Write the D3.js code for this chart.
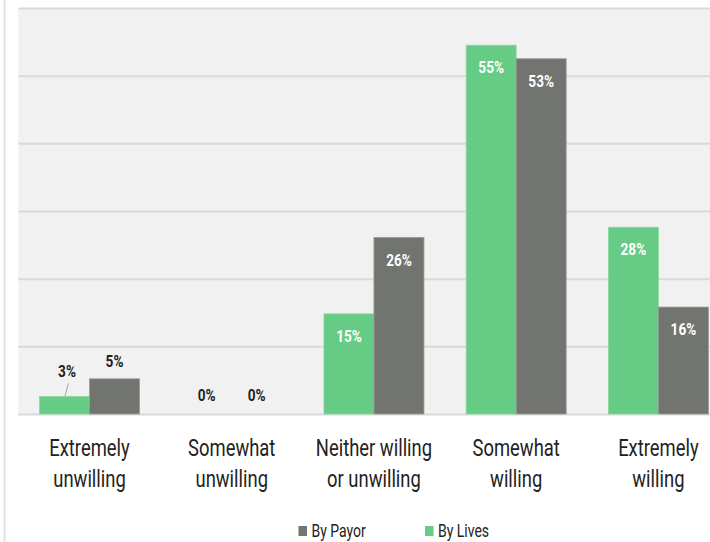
<!DOCTYPE html>
<html>
<head>
<meta charset="utf-8">
<script src="https://cdn.jsdelivr.net/npm/d3@7"></script>
<style>
  html, body { margin: 0; padding: 0; background: #ffffff; }
  svg { display: block; }
</style>
</head>
<body>
<svg id="chart" width="710" height="542"></svg>
<script>
// ---- data ----
const categories = [
  ["Extremely", "unwilling"],
  ["Somewhat", "unwilling"],
  ["Neither willing", "or unwilling"],
  ["Somewhat", "willing"],
  ["Extremely", "willing"]
];
const seriesNames = ["By Lives", "By Payor"];
const byLives = [2.6, 0, 14.8, 54.5, 27.6];
const byPayor = [5.2, 0, 26.1, 52.5, 15.8];
const yTicks = [0, 10, 20, 30, 40, 50, 60];
const legendOrder = ["By Payor", "By Lives"];

// ---- styles ----
const colors = { "By Lives": "#66cc85", "By Payor": "#72746f" };
const strokes = { "By Lives": "#8ad9a2", "By Payor": "#9a9b97" };
const condensed = 0.8;

const svg = d3.select("#chart");
const W = 710, H = 542;
const plot = { left: 18.4, right: 729.5, top: 8, bottom: 414 };

const x = d3.scaleBand()
  .domain(d3.range(categories.length))
  .range([plot.left, plot.right])
  .paddingInner(0.2968)
  .paddingOuter(0.1484);
const x1 = d3.scaleBand().domain(seriesNames).range([0, x.bandwidth()]);
const y = d3.scaleLinear().domain([0, 60]).range([plot.bottom, plot.top]);

// left frame line
svg.append("line").attr("x1", 4.5).attr("x2", 4.5).attr("y1", 0).attr("y2", H)
  .attr("stroke", "#dfe1ec").attr("stroke-width", 2);

// plot background
svg.append("rect").attr("x", plot.left).attr("y", plot.top)
  .attr("width", plot.right - plot.left).attr("height", plot.bottom - plot.top)
  .attr("fill", "#f1f1f1");

// gridlines via axis
const yAxis = d3.axisLeft(y).tickValues(yTicks).tickSize(-(plot.right - plot.left)).tickFormat("");
const gy = svg.append("g").attr("transform", `translate(${plot.left},0)`).call(yAxis);
gy.select(".domain").remove();
gy.selectAll(".tick line").attr("stroke", "#d9d9d9").attr("stroke-width", 2);

// bars
const rows = categories.map((c, i) => ({ i, vals: [
  { s: "By Lives", v: byLives[i] },
  { s: "By Payor", v: byPayor[i] }
]}));

const groups = svg.append("g").selectAll("g").data(rows).join("g")
  .attr("transform", d => `translate(${x(d.i)},0)`);

groups.selectAll("rect").data(d => d.vals.filter(e => e.v > 0)).join("rect")
  .attr("x", d => x1(d.s))
  .attr("y", d => y(d.v))
  .attr("width", x1.bandwidth())
  .attr("height", d => y(0) - y(d.v))
  .attr("fill", d => colors[d.s])
  .attr("stroke", d => strokes[d.s])
  .attr("stroke-width", 0.8);

// data labels
const fmt = v => Math.round(v) + "%";
groups.each(function(row) {
  const g = d3.select(this);
  row.vals.forEach(d => {
    const cx = x1(d.s) + x1.bandwidth() / 2;
    const barTop = y(d.v);
    const inside = d.v >= 10;
    let ly;
    if (inside) ly = barTop + 22;
    else if (d.v === 0) ly = plot.bottom - 19;
    else ly = barTop - 18;
    let lx = cx;
    // leader for small label that would collide
    if (!inside && d.v > 0 && d.v < 4) {
      ly = barTop - 26;
      lx = cx + 2.5;
      g.append("line").attr("x1", cx + 3.8).attr("y1", ly + 13)
        .attr("x2", cx + 0.5).attr("y2", barTop)
        .attr("stroke", "#a6a6a6").attr("stroke-width", 1);
    }
    g.append("text")
      .attr("transform", `translate(${lx},${ly}) scale(${condensed},1)`)
      .attr("text-anchor", "middle")
      .attr("dy", "0.36em")
      .attr("font-family", "Roboto, 'Liberation Sans', sans-serif")
      .attr("font-weight", "bold")
      .attr("font-size", 17)
      .attr("fill", inside ? "#ffffff" : "#222222")
      .text(fmt(d.v));
  });
});

// category labels
const catG = svg.append("g").selectAll("g").data(categories).join("g")
  .attr("transform", (d, i) => `translate(${x(i) + x.bandwidth() / 2},0)`);
catG.each(function(lines) {
  const g = d3.select(this);
  lines.forEach((t, k) => {
    g.append("text")
      .attr("transform", `translate(0,${448 + k * 31}) scale(${condensed},1)`)
      .attr("text-anchor", "middle")
      .attr("dy", "0.36em")
      .attr("font-family", "Roboto, 'Liberation Sans', sans-serif")
      .attr("font-size", 23)
      .attr("fill", "#222222")
      .text(t);
  });
});

// legend
const legendX = { "By Payor": 298.5, "By Lives": 425 };
const lg = svg.append("g").selectAll("g").data(legendOrder).join("g")
  .attr("transform", d => `translate(${legendX[d]},530.5)`);
lg.append("rect").attr("x", 0).attr("y", -4.5).attr("width", 8.5).attr("height", 10)
  .attr("fill", d => colors[d]);
lg.append("text")
  .attr("transform", `translate(13,0) scale(${condensed},1)`)
  .attr("dy", "0.36em")
  .attr("font-family", "Roboto, 'Liberation Sans', sans-serif")
  .attr("font-size", 17.5)
  .attr("fill", "#222222")
  .text(d => d);
</script>
</body>
</html>
